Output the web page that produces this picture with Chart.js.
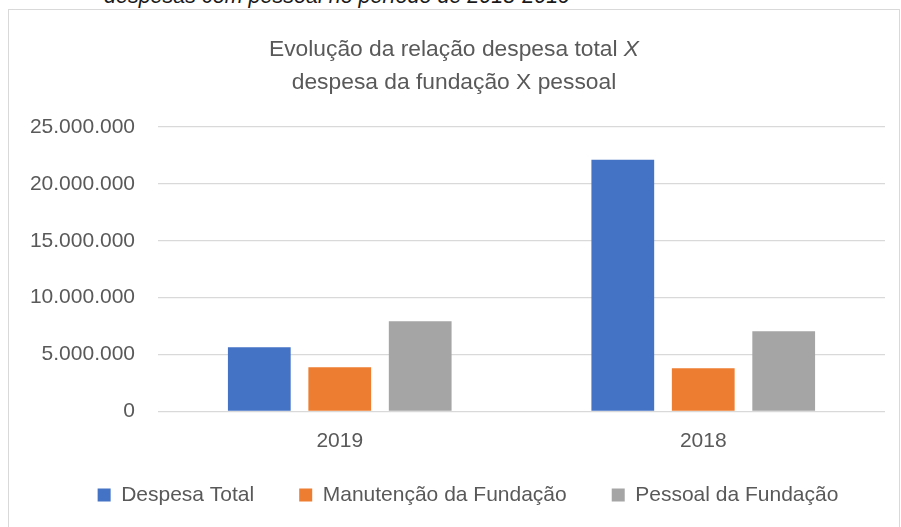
<!DOCTYPE html>
<html><head><meta charset="utf-8">
<script src="https://cdn.jsdelivr.net/npm/chart.js@4.4.0/dist/chart.umd.min.js"></script>
<style>
html,body{margin:0;padding:0;background:#fff;width:901px;height:527px;overflow:hidden;position:relative;font-family:"Liberation Sans",Arial,sans-serif;}
#cap{position:absolute;left:104px;top:-17px;font-style:italic;font-size:21.5px;color:#1a1a1a;white-space:nowrap;line-height:26px;}
#box{position:absolute;left:8px;top:9px;width:892px;height:540px;border:1px solid #d9d9d9;box-sizing:border-box;}
#wrap{position:absolute;left:0;top:0;width:901px;height:527px;}
</style></head><body>
<div id="cap">despesas com pessoal no período de 2018-2019</div>
<div id="box"></div>
<div id="wrap"><canvas id="c"></canvas></div>
<script>
const categories = ['2019', '2018'];
const seriesNames = ['Despesa Total', 'Manutenção da Fundação', 'Pessoal da Fundação'];
const despesaTotal = [5640000, 22130000];
const manutencaoFundacao = [3880000, 3790000];
const pessoalFundacao = [7940000, 7050000];
const yTickValues = [0, 5000000, 10000000, 15000000, 20000000, 25000000];
const titleLine1 = 'Evolução da relação despesa total ';
const titleLine1Italic = 'X';
const titleLine2 = 'despesa da fundação X pessoal';

const colors = ['#4472C4', '#ED7D31', '#A5A5A5'];
const FONT = '"Liberation Sans", Arial, sans-serif';
const TXT = '#595959';
const LEGEND_PAD = 45;

function fmt(v) {
  return String(v).replace(/\B(?=(\d{3})+(?!\d))/g, '.');
}

const titlePlugin = {
  id: 'mixedTitle',
  afterLayout(chart) {
    const lg = chart.legend;
    if (!lg) return;
    const dx = 468 - (lg.left + lg.right) / 2;
    lg.left += dx; lg.right += dx;
    const h = lg.bottom - lg.top;
    lg.top = 495 - LEGEND_PAD - 10.5; lg.bottom = lg.top + h;
  },
  afterDraw(chart) {
    const ctx = chart.ctx;
    const cx = 454;
    ctx.save();
    ctx.fillStyle = TXT;
    ctx.textBaseline = 'alphabetic';
    ctx.textAlign = 'left';
    const size = 22.8;
    ctx.font = size + 'px ' + FONT;
    const w1 = ctx.measureText(titleLine1).width;
    ctx.font = 'italic ' + size + 'px ' + FONT;
    const w2 = ctx.measureText(titleLine1Italic).width;
    let x = cx - (w1 + w2) / 2;
    ctx.font = size + 'px ' + FONT;
    ctx.fillText(titleLine1, x, 56);
    ctx.font = 'italic ' + size + 'px ' + FONT;
    ctx.fillText(titleLine1Italic, x + w1, 56);
    ctx.font = size + 'px ' + FONT;
    ctx.textAlign = 'center';
    ctx.fillText(titleLine2, cx, 89);
    ctx.restore();
  }
};

new Chart(document.getElementById('c'), {
  type: 'bar',
  data: {
    labels: categories,
    datasets: [
      { label: seriesNames[0], data: despesaTotal, backgroundColor: colors[0], borderWidth: 0 },
      { label: seriesNames[1], data: manutencaoFundacao, backgroundColor: colors[1], borderWidth: 0 },
      { label: seriesNames[2], data: pessoalFundacao, backgroundColor: colors[2], borderWidth: 0 }
    ]
  },
  plugins: [titlePlugin],
  options: {
    responsive: true,
    maintainAspectRatio: false,
    animation: false,
    devicePixelRatio: 1,
    datasets: { bar: { categoryPercentage: 0.664, barPercentage: 0.78 } },
    layout: { padding: { left: 0, right: 16, top: 127, bottom: -5.5 } },
    plugins: {
      title: { display: false },
      tooltip: { enabled: false },
      legend: {
        position: 'bottom',
        align: 'center',
        labels: {
          boxWidth: 13, boxHeight: 13, padding: LEGEND_PAD,
          color: TXT,
          font: { family: FONT, size: 21 }
        }
      }
    },
    scales: {
      x: {
        grid: { display: false, drawTicks: false },
        border: { display: false },
        ticks: { color: TXT, font: { family: FONT, size: 21 }, padding: 17 },
        afterFit(s) { s.height = 45; }
      },
      y: {
        min: 0, max: 25000000,
        afterBuildTicks(s) { s.ticks = yTickValues.map(v => ({ value: v })); },
        grid: { color: '#d9d9d9', lineWidth: 1.3, drawTicks: false },
        border: { display: false },
        ticks: { color: TXT, font: { family: FONT, size: 21 }, padding: 23, callback: v => fmt(v) },
        afterFit(s) { s.width = 158; }
      }
    }
  }
});
</script>
</body></html>
